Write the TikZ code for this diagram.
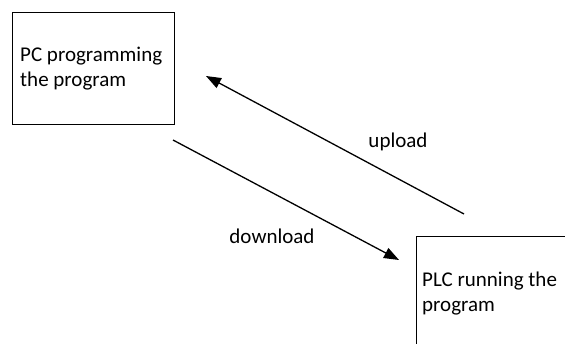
\documentclass[tikz,border=0pt]{standalone}
\usepackage{fontspec}
\setmainfont{Carlito}
\usetikzlibrary{arrows.meta,positioning}
\tikzset{
  flow/.style={-{Triangle[length=15pt,width=11pt]}, line width=1.3pt, draw=black},
  frame/.style={draw=black, line width=0.9pt, rectangle, anchor=north west, inner sep=0pt, fill=none},
  boxtext/.style={anchor=base west, align=left, inner sep=0pt, font=\fontsize{21}{25}\selectfont},
  lbl/.style={anchor=base, inner sep=0pt, font=\fontsize{21}{25}\selectfont}
}

\begin{document}
\begin{tikzpicture}[x=1pt, y=-1pt]
  \path[use as bounding box, clip] (0,0) rectangle (565,343);

  \node[frame, minimum width=162pt, minimum height=112pt] (pc) at (12,12) {};
  \node[boxtext] (pctext) at (20,86) {PC programming\\the program};

  \node[frame, minimum width=175pt, minimum height=125pt] (plc) at (416,236) {};
  \node[boxtext] (plctext) at (422,311) {PLC running the\\program};

  \coordinate (dlstart) at (173,140);
  \coordinate (dlend) at (399,260);
  \coordinate (ulstart) at (464,214);
  \coordinate (ulend) at (206,76);

  \draw[flow] (dlstart) -- (dlend);
  \draw[flow] (ulstart) -- (ulend);

  \node[lbl] (down) at (272,243) {download};
  \node[lbl] (up) at (398,147) {upload};
\end{tikzpicture}
\end{document}
